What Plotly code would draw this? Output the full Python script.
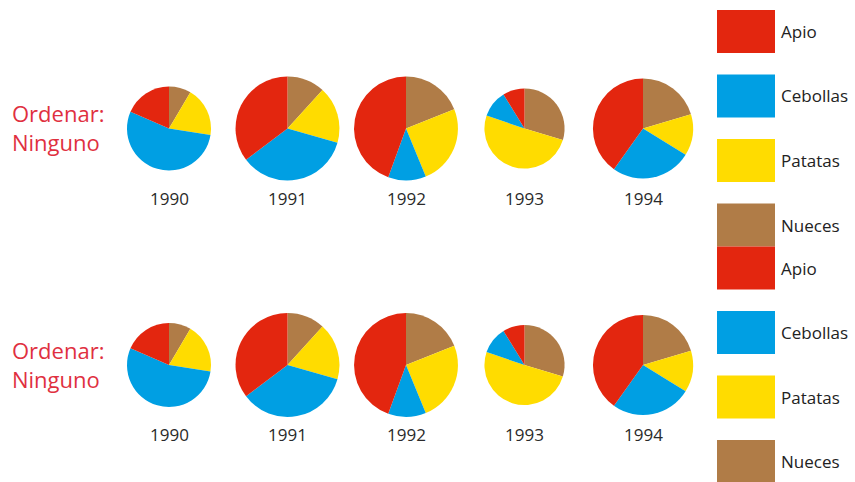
import plotly.graph_objects as go

years = ["1990", "1991", "1992", "1993", "1994"]
categories = ["Apio", "Cebollas", "Patatas", "Nueces"]
apio = [18.5, 54, 68, 8, 57]
cebollas = [54, 54, 18, 10, 37]
patatas = [19, 27, 38, 46, 19]
nueces = [8.5, 18, 29, 27, 29]
row_labels = ["Ordenar:<br>Ninguno", "Ordenar:<br>Ninguno"]

colors = ["#e3260f", "#009fe3", "#ffdc00", "#b07c47"]
W, H = 855, 482
FONT = "Open Sans"

fig = go.Figure()

series = [apio, cebollas, patatas, nueces]
totals = [sum(s[i] for s in series) for i in range(len(years))]
base_total = totals[0]
base_r = 42.0

col_x0, col_dx = 169.0, 118.5
row_cy = [128.5, 365.0]
label_dy = 69.5

annotations = []
shapes = []

# slices are drawn clockwise starting at 12 o'clock in reverse category order,
# which equals counterclockwise Apio, Cebollas, Patatas, Nueces from 12 o'clock
pie_order = list(range(len(categories)))[::-1]

for ri, cy in enumerate(row_cy):
    for i, yr in enumerate(years):
        vals = [series[k][i] for k in pie_order]
        r = base_r * (totals[i] / base_total) ** 0.5
        cx = col_x0 + col_dx * i
        fig.add_trace(go.Pie(
            labels=[categories[k] for k in pie_order], values=vals, sort=False,
            direction="clockwise", rotation=0,
            marker=dict(colors=[colors[k] for k in pie_order], line=dict(width=0)),
            textinfo="none", showlegend=False,
            domain=dict(x=[(cx - r) / W, (cx + r) / W],
                        y=[1 - (cy + r) / H, 1 - (cy - r) / H]),
            name=yr,
        ))
        annotations.append(dict(
            text=yr, x=cx / W, y=1 - (cy + label_dy) / H,
            xref="paper", yref="paper", showarrow=False,
            xanchor="center", yanchor="middle",
            font=dict(family=FONT, size=17, color="#2a2a2a"),
        ))
    annotations.append(dict(
        text=row_labels[ri], x=10 / W, y=1 - (cy - 1) / H,
        xref="paper", yref="paper", showarrow=False,
        xanchor="left", yanchor="middle", align="left",
        font=dict(family=FONT, size=22, color="#e0303f"),
    ))

# legend blocks
leg_tops = [10.0, 246.5]
leg_step = 64.5
sq_h = 43
for top in leg_tops:
    for k, cat in enumerate(categories):
        y0 = top + leg_step * k
        shapes.append(dict(
            type="rect", xref="paper", yref="paper",
            x0=717 / W, x1=775 / W,
            y0=1 - (y0 + sq_h) / H, y1=1 - y0 / H,
            fillcolor=colors[k], line=dict(width=0),
        ))
        annotations.append(dict(
            text=cat, x=779 / W, y=1 - (y0 + sq_h / 2) / H,
            xref="paper", yref="paper", showarrow=False,
            xanchor="left", yanchor="middle",
            font=dict(family=FONT, size=17, color="#222222"),
        ))

fig.update_layout(
    width=W, height=H,
    margin=dict(l=0, r=0, t=0, b=0),
    paper_bgcolor="white", plot_bgcolor="white",
    annotations=annotations, shapes=shapes,
    showlegend=False,
)

fig.write_html("out.html",
               config={"displayModeBar": False},
               post_script="document.body.style.margin='0';document.body.style.overflow='hidden';")
